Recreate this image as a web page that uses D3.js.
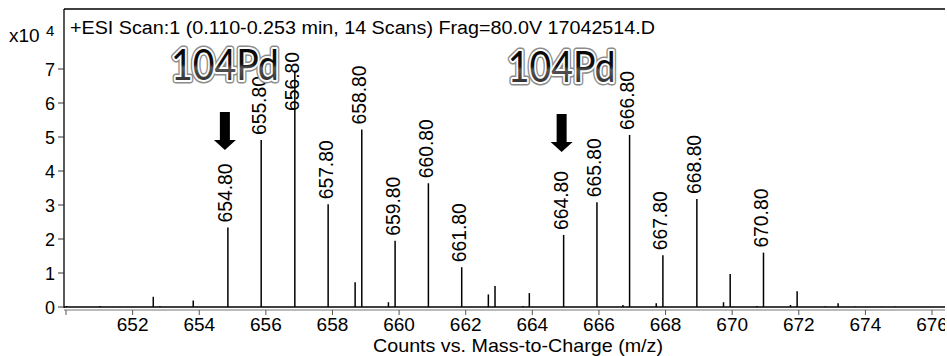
<!DOCTYPE html>
<html lang="en">
<head>
    <meta charset="UTF-8">
    <title>ESI Scan Spectrum</title>
    <style>
        body {
            margin: 0;
            padding: 0;
            background-color: #fff;
            font-family: "Liberation Sans", Arial, sans-serif;
        }
        svg {
            display: block;
        }
    </style>
</head>
<body>

<svg width="945" height="356" id="chart"></svg>

<script src="https://d3js.org/d3.v7.min.js"></script>
<script>
    // peak positions (m/z), intensities (x10^4 counts) and the printed labels
    const peakMz = [650.02, 651.02, 651.62, 652.62, 652.82, 653.82, 654.86, 655.86, 656.87, 657.87,
        658.68, 658.88, 659.68, 659.88, 660.88, 661.88, 662.68, 662.88, 663.72, 663.91,
        664.94, 665.94, 666.72, 666.92, 667.72, 667.92, 668.94, 669.74, 669.94, 670.74,
        670.94, 671.75, 671.95, 672.80, 673.18, 673.70, 674.50, 674.90];
    const peakCounts = [0.03, 0.03, 0.01, 0.30, 0.02, 0.19, 2.34, 4.91, 6.95, 3.02,
        0.73, 5.22, 0.14, 1.95, 3.64, 1.17, 0.37, 0.62, 0.03, 0.41,
        2.12, 3.08, 0.06, 5.06, 0.11, 1.52, 3.18, 0.14, 0.97, 0.03,
        1.60, 0.06, 0.46, 0.02, 0.11, 0.01, 0.01, 0.01];
    const peakLabels = [null, null, null, null, null, null, "654.80", "655.80", "656.80", "657.80",
        null, "658.80", null, "659.80", "660.80", "661.80", null, null, null, null,
        "664.80", "665.80", null, "666.80", null, "667.80", "668.80", null, null, null,
        "670.80", null, null, null, null, null, null, null];

    const xTicks = [650, 652, 654, 656, 658, 660, 662, 664, 666, 668, 670, 672, 674, 676];
    const xTickLabels = ["", "652", "654", "656", "658", "660", "662", "664", "666", "668", "670", "672", "674", "676"];
    const yTicks = [0, 1, 2, 3, 4, 5, 6, 7];

    // isotope call-outs (arrow + "104Pd" tag)
    const markerMz = [654.77, 664.88];
    const markerText = ["104Pd", "104Pd"];

    const titleText = "+ESI Scan:1 (0.110-0.253 min, 14 Scans) Frag=80.0V 17042514.D";
    const xTitle = "Counts vs. Mass-to-Charge (m/z)";

    const svg = d3.select("#chart");

    const plotLeft = 64, plotRight = 972, plotTop = 9, plotBottom = 307;

    const x = d3.scaleLinear()
        .domain([649.94, 677.2])
        .range([plotLeft, plotRight]);

    const y = d3.scaleLinear()
        .domain([0, 7])
        .range([plotBottom, 69]);

    // gradient for the call-out text
    const defs = svg.append("defs");
    const grad = defs.append("linearGradient")
        .attr("id", "tagFill")
        .attr("x1", 0).attr("y1", 0).attr("x2", 0).attr("y2", 1);
    grad.append("stop").attr("offset", "0%").attr("stop-color", "#000");
    grad.append("stop").attr("offset", "50%").attr("stop-color", "#111");
    grad.append("stop").attr("offset", "58%").attr("stop-color", "#555");
    grad.append("stop").attr("offset", "100%").attr("stop-color", "#1a1a1a");

    // frame: top and left edges
    svg.append("line")
        .attr("x1", plotLeft).attr("x2", plotRight)
        .attr("y1", plotTop).attr("y2", plotTop)
        .attr("stroke", "#000").attr("stroke-width", 1.3);
    svg.append("line")
        .attr("x1", plotLeft).attr("x2", plotLeft)
        .attr("y1", plotTop).attr("y2", plotBottom + 1)
        .attr("stroke", "#000").attr("stroke-width", 1.3);

    // title
    svg.append("text")
        .attr("x", 70)
        .attr("y", 34)
        .attr("font-size", 18)
        .attr("textLength", 585)
        .attr("lengthAdjust", "spacingAndGlyphs")
        .attr("fill", "#000")
        .text(titleText);

    // y axis
    const yAxis = svg.append("g");
    yAxis.selectAll("line")
        .data(yTicks)
        .enter().append("line")
        .attr("x1", plotLeft - 6).attr("x2", plotLeft)
        .attr("y1", d => y(d)).attr("y2", d => y(d))
        .attr("stroke", "#333").attr("stroke-width", 1);
    yAxis.selectAll("text")
        .data(yTicks)
        .enter().append("text")
        .attr("x", plotLeft - 9)
        .attr("y", d => y(d) + 6.5)
        .attr("text-anchor", "end")
        .attr("font-size", 18)
        .text(d => d);

    svg.append("text")
        .attr("x", 9)
        .attr("y", 42)
        .attr("font-size", 19)
        .text("x10");
    svg.append("text")
        .attr("x", 46)
        .attr("y", 36)
        .attr("font-size", 15)
        .text("4");

    // x axis (gray line just below the baseline)
    const axisY = plotBottom + 3;
    svg.append("line")
        .attr("x1", plotLeft).attr("x2", plotRight)
        .attr("y1", axisY).attr("y2", axisY)
        .attr("stroke", "#777").attr("stroke-width", 1);
    const xAxis = svg.append("g");
    xAxis.selectAll("line")
        .data(xTicks)
        .enter().append("line")
        .attr("x1", d => x(d)).attr("x2", d => x(d))
        .attr("y1", axisY).attr("y2", axisY + 5)
        .attr("stroke", "#555").attr("stroke-width", 1);
    xAxis.selectAll("text")
        .data(xTicks)
        .enter().append("text")
        .attr("x", d => x(d))
        .attr("y", 331)
        .attr("text-anchor", "middle")
        .attr("font-size", 19)
        .text((d, i) => xTickLabels[i]);

    svg.append("text")
        .attr("x", 518)
        .attr("y", 352)
        .attr("text-anchor", "middle")
        .attr("font-size", 19)
        .attr("textLength", 290)
        .attr("lengthAdjust", "spacingAndGlyphs")
        .text(xTitle);

    // baseline
    svg.append("line")
        .attr("x1", plotLeft).attr("x2", plotRight)
        .attr("y1", plotBottom).attr("y2", plotBottom)
        .attr("stroke", "#000").attr("stroke-width", 1.6);

    // peaks
    const peaks = peakMz.map((m, i) => ({mz: m, v: peakCounts[i], label: peakLabels[i]}));

    svg.append("g").selectAll("line")
        .data(peaks)
        .enter().append("line")
        .attr("x1", d => x(d.mz)).attr("x2", d => x(d.mz))
        .attr("y1", plotBottom).attr("y2", d => y(d.v))
        .attr("stroke", "#000").attr("stroke-width", 1.5);

    // peak labels, pushed down when they would run into the title
    const labelLen = 59;
    svg.append("g").selectAll("text")
        .data(peaks.filter(d => d.label))
        .enter().append("text")
        .attr("transform", d => {
            const ly = Math.max(y(d.v) - 5, 52 + labelLen);
            return `translate(${x(d.mz) + 4.5},${ly}) rotate(-90)`;
        })
        .attr("font-size", 19.3)
        .text(d => d.label);

    // call-outs
    const markers = markerMz.map((m, i) => ({mz: m, text: markerText[i]}));
    const mk = svg.append("g").selectAll("g")
        .data(markers)
        .enter().append("g")
        .attr("transform", (d, i) => `translate(${x(d.mz)},${i === 0 ? 0 : 2})`);

    mk.append("path")
        .attr("d", "M-5,112 L5,112 L5,140 L11,140 L0,150 L-11,140 L-5,140 Z")
        .attr("fill", "#000");

    mk.append("text")
        .attr("x", 0).attr("y", 80)
        .attr("text-anchor", "middle")
        .attr("font-family", "Lato, 'Open Sans', sans-serif")
        .attr("font-size", 42)
        .attr("textLength", 108)
        .attr("lengthAdjust", "spacingAndGlyphs")
        .attr("fill", "none")
        .attr("stroke", "#8c8c8c")
        .attr("stroke-width", 7)
        .attr("stroke-linejoin", "round")
        .text(d => d.text);

    mk.append("text")
        .attr("x", 0).attr("y", 80)
        .attr("text-anchor", "middle")
        .attr("font-family", "Lato, 'Open Sans', sans-serif")
        .attr("font-size", 42)
        .attr("textLength", 108)
        .attr("lengthAdjust", "spacingAndGlyphs")
        .attr("fill", "url(#tagFill)")
        .attr("stroke", "#fff")
        .attr("stroke-width", 4)
        .attr("stroke-linejoin", "round")
        .attr("paint-order", "stroke")
        .text(d => d.text);
</script>

</body>
</html>
